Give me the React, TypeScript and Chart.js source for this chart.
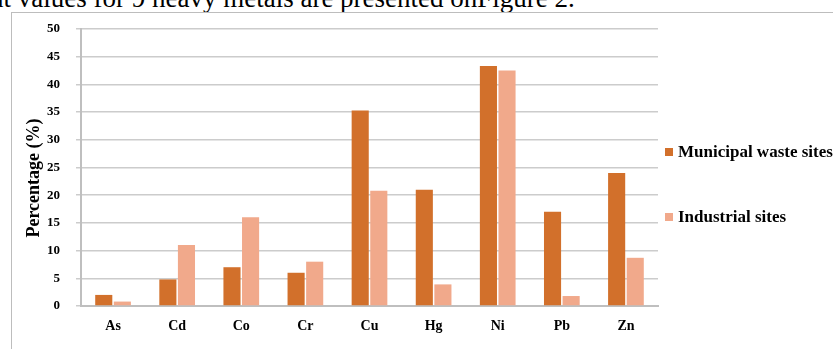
import React, { useEffect, useRef } from "react";
import { Chart, registerables } from "chart.js";

Chart.register(...registerables);

const categories = ["As", "Cd", "Co", "Cr", "Cu", "Hg", "Ni", "Pb", "Zn"];
const municipalValues = [2, 4.8, 7, 6, 35.3, 21, 43.3, 17, 24];
const industrialValues = [0.8, 11, 16, 8, 20.8, 3.9, 42.5, 1.8, 8.7];
const seriesNames = ["Municipal waste sites", "Industrial sites"];
const seriesColors = ["#D2702B", "#F1A98B"];
const yTitle = "Percentage (%)";
const captionText = "nt values for 9 heavy metals are presented onFigure 2.";

const SERIF = '"Liberation Serif", "Times New Roman", serif';

const extrasPlugin = {
  id: "extras",
  afterDraw(chart: any) {
    const ctx = chart.ctx;
    const area = chart.chartArea;
    ctx.save();
    // y title
    ctx.fillStyle = "#000";
    ctx.font = `bold 18px ${SERIF}`;
    ctx.textAlign = "center";
    ctx.textBaseline = "middle";
    ctx.translate(34, 178);
    ctx.rotate(-Math.PI / 2);
    ctx.fillText(yTitle, 0, 0);
    ctx.restore();

    // legend
    ctx.save();
    ctx.font = `bold 17px ${SERIF}`;
    ctx.textAlign = "left";
    ctx.textBaseline = "middle";
    const ys = [152, 217];
    seriesNames.forEach((name, i) => {
      ctx.fillStyle = seriesColors[i];
      ctx.fillRect(area.right + 7, ys[i] - 4, 8, 8);
      ctx.fillStyle = "#000";
      ctx.fillText(name, area.right + 20, ys[i] + 1);
    });
    ctx.restore();
  },
};

export default function App() {
  const canvasRef = useRef<HTMLCanvasElement | null>(null);

  useEffect(() => {
    const canvas = canvasRef.current;
    if (!canvas) return;
    const chart = new Chart(canvas, {
      type: "bar",
      data: {
        labels: categories,
        datasets: [
          {
            label: seriesNames[0],
            data: municipalValues,
            backgroundColor: seriesColors[0],
            categoryPercentage: 0.58,
            barPercentage: 0.92,
          },
          {
            label: seriesNames[1],
            data: industrialValues,
            backgroundColor: seriesColors[1],
            categoryPercentage: 0.58,
            barPercentage: 0.92,
          },
        ],
      },
      options: {
        animation: false,
        responsive: false,
        maintainAspectRatio: false,
        layout: { padding: { top: 29, right: 175, bottom: 0, left: 0 } },
        plugins: {
          legend: { display: false },
          tooltip: { enabled: false },
        },
        scales: {
          x: {
            grid: { display: false, drawTicks: false },
            border: { display: true, color: "#bfbfbf", width: 2 },
            ticks: {
              color: "#000",
              padding: 12,
              font: { family: SERIF, size: 14, weight: "bold" },
            },
            afterFit: (scale: any) => {
              scale.height = 43;
            },
          },
          y: {
            min: 0,
            max: 50,
            ticks: {
              stepSize: 5,
              color: "#000",
              padding: 16,
              font: { family: SERIF, size: 13, weight: "bold" },
            },
            grid: { color: "#cccccc", lineWidth: 1.5, tickLength: 5, drawTicks: true },
            border: { display: true, color: "#bfbfbf", width: 2 },
            afterFit: (scale: any) => {
              scale.width = 81;
            },
          },
        },
      },
      plugins: [extrasPlugin],
    } as any);
    return () => chart.destroy();
  }, []);

  return (
    <div
      style={{
        position: "fixed",
        left: 0,
        top: 0,
        width: 833,
        height: 349,
        background: "#fff",
        overflow: "hidden",
      }}
    >
      <div
        style={{
          position: "absolute",
          left: -10,
          top: -15,
          fontFamily: SERIF,
          fontSize: 27,
          lineHeight: "27px",
          whiteSpace: "nowrap",
          color: "#000",
        }}
      >
        {captionText}
      </div>
      <div
        style={{
          position: "absolute",
          left: 11,
          top: 12,
          width: 900,
          height: 400,
          border: "1px solid #bdbdbd",
          background: "#fff",
        }}
      />
      <canvas
        ref={canvasRef}
        width={833}
        height={349}
        style={{ position: "absolute", left: 0, top: 0, width: 833, height: 349 }}
      />
    </div>
  );
}
